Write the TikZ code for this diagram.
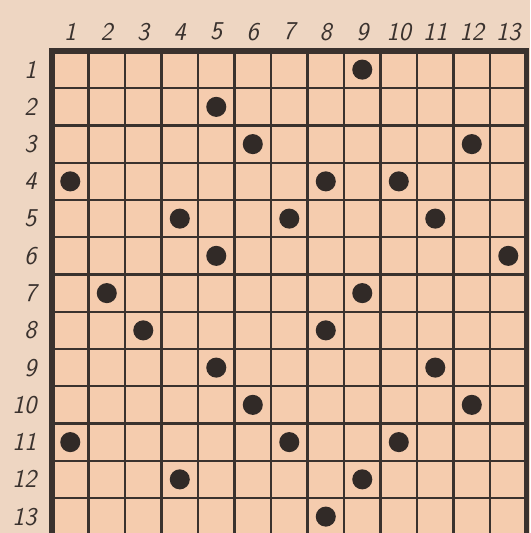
\documentclass[tikz,border=0pt]{standalone}
\usepackage{tikz}
\definecolor{paper}{RGB}{238,214,194}
\definecolor{cellfill}{RGB}{245,204,174}
\definecolor{ink}{RGB}{58,50,46}
\begin{document}
\begin{tikzpicture}[x=1cm, y=1.0205cm,
    gridline/.style={ink, line width=1.8pt},
    frame/.style={ink, line width=4pt},
    stone/.style={circle, fill=ink!85!black, inner sep=0pt, minimum size=5.5mm},
    colnum/.style={font=\fontsize{20}{20}\selectfont\sffamily\itshape, text=ink},
    rownum/.style={colnum, anchor=east}
  ]
  \fill[paper] (-1.425,1.369) rectangle (13.096,-12.94);
  \clip (-1.425,1.369) rectangle (13.096,-12.94);

  % Board (runs past the lower edge)
  \fill[cellfill] (0,0) rectangle (13,-13);
  \foreach \i in {1,...,12} {
    \draw[gridline] (\i,0) -- (\i,-13);
    \draw[gridline] (0,-\i) -- (13,-\i);
  }
  \draw[frame] (0,0) rectangle (13,-13);

  % Column and row numbers
  \foreach \c in {1,...,13}
    \node[colnum] (col\c) at (\c-0.5,0.52) {\c};
  \foreach \r in {1,...,13}
    \node[rownum] (row\r) at (-0.3,-\r+0.5) {\r};

  % Stones (column/row)
  \foreach \c/\r in {9/1, 5/2, 6/3, 12/3, 1/4, 8/4, 10/4, 4/5, 7/5, 11/5,
                     5/6, 13/6, 2/7, 9/7, 3/8, 8/8, 5/9, 11/9, 6/10, 12/10,
                     1/11, 7/11, 10/11, 4/12, 9/12, 8/13}
    \node[stone] (s\c-\r) at (\c-0.5,-\r+0.5) {};
\end{tikzpicture}
\end{document}
